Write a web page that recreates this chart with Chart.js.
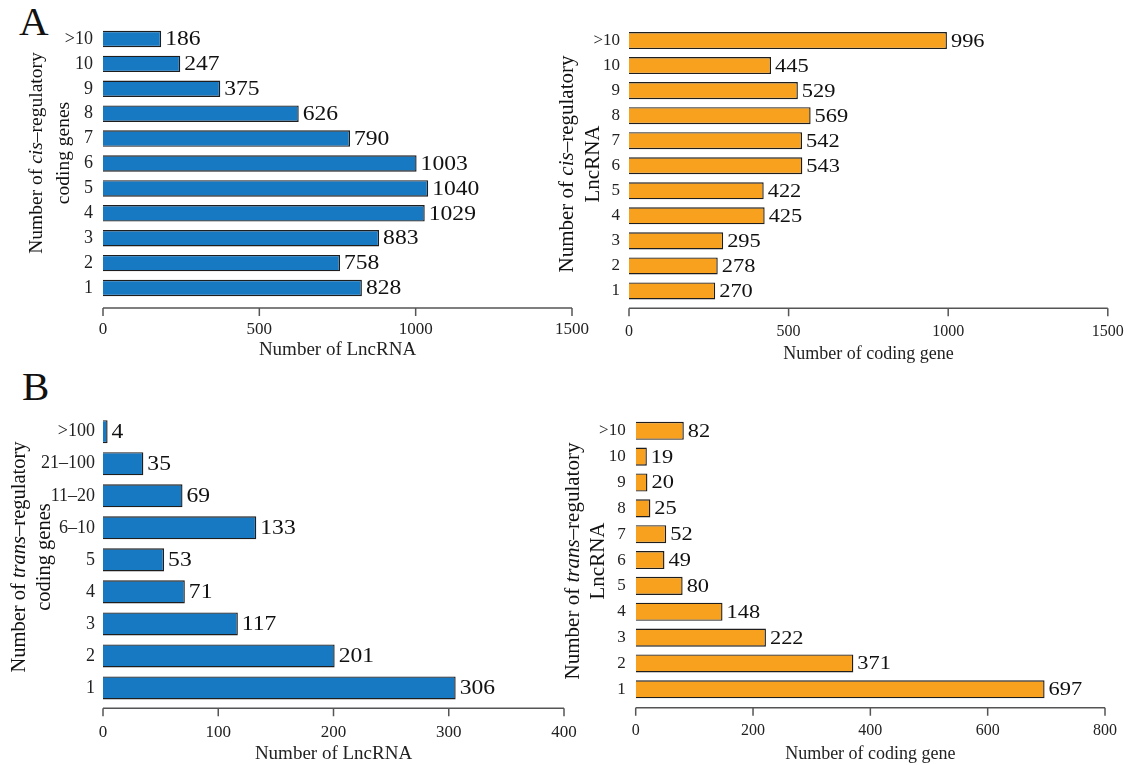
<!DOCTYPE html>
<html>
<head>
<meta charset="utf-8">
<script src="https://cdn.jsdelivr.net/npm/chart.js@4.4.0/dist/chart.umd.min.js"></script>
<style>
body{margin:0;background:#fff;width:1136px;height:765px;position:relative;overflow:hidden;font-family:"Liberation Serif",serif;color:#111}
canvas{position:absolute}
.tag{position:absolute;font-size:41px;line-height:1}
</style>
</head>
<body>
<div class="tag" style="left:19px;top:1px">A</div>
<div class="tag" style="left:22px;top:366px">B</div>
<canvas id="cisGene" width="610" height="365" style="left:0;top:0"></canvas>
<canvas id="cisLnc" width="590" height="365" style="left:556px;top:0"></canvas>
<canvas id="transGene" width="600" height="400" style="left:0;top:365px"></canvas>
<canvas id="transLnc" width="580" height="400" style="left:556px;top:365px"></canvas>
<script>
// data
const cisLabels = ['>10', '10', '9', '8', '7', '6', '5', '4', '3', '2', '1'];
const cisGeneCounts = [186, 247, 375, 626, 790, 1003, 1040, 1029, 883, 758, 828];
const cisLncCounts = [996, 445, 529, 569, 542, 543, 422, 425, 295, 278, 270];
const cisTicks = [0, 500, 1000, 1500];

const transGeneLabels = ['>100', '21\u2013100', '11\u201320', '6\u201310', '5', '4', '3', '2', '1'];
const transGeneCounts = [4, 35, 69, 133, 53, 71, 117, 201, 306];
const transGeneTicks = [0, 100, 200, 300, 400];

const transLncLabels = ['>10', '10', '9', '8', '7', '6', '5', '4', '3', '2', '1'];
const transLncCounts = [82, 19, 20, 25, 52, 49, 80, 148, 222, 371, 697];
const transLncTicks = [0, 200, 400, 600, 800];

const FONT = '"Liberation Serif", "Times New Roman", serif';
const BLUE = 'rgb(24,121,195)';
const ORANGE = 'rgb(247,161,30)';

// draws axis line below the plot, bar values and the two-line y title
const extras = {
    id: 'extras',
    afterDraw(chart, args, opts) {
        const ctx = chart.ctx;
        const xs = chart.scales.x;
        const area = chart.chartArea;

        // x axis line + ticks
        const y0 = area.bottom + opts.gap;
        ctx.save();
        ctx.strokeStyle = '#555';
        ctx.lineWidth = 1.5;
        ctx.beginPath();
        ctx.moveTo(xs.getPixelForValue(xs.min), y0);
        ctx.lineTo(xs.getPixelForValue(xs.max), y0);
        xs.ticks.forEach(t => {
            const px = xs.getPixelForValue(t.value);
            ctx.moveTo(px, y0);
            ctx.lineTo(px, y0 + 8);
        });
        ctx.stroke();

        // values (the figure's value labels are a little wide, so stretch them)
        ctx.fillStyle = '#111';
        ctx.font = opts.valueSize + 'px ' + FONT;
        ctx.textAlign = 'left';
        ctx.textBaseline = 'middle';
        const meta = chart.getDatasetMeta(0);
        meta.data.forEach((bar, i) => {
            ctx.save();
            ctx.translate(bar.x + 4, bar.y + 1);
            ctx.scale(1.18, 1);
            ctx.fillText(chart.data.datasets[0].data[i], 0, 0);
            ctx.restore();
        });

        // y title
        ctx.translate(0, opts.titleY);
        ctx.rotate(-Math.PI / 2);
        opts.titleLines.forEach((parts, li) => {
            let total = 0;
            parts.forEach(p => {
                ctx.font = (p[1] ? 'italic ' : '') + opts.titleSize + 'px ' + FONT;
                total += ctx.measureText(p[0]).width;
            });
            let x = -total / 2;
            parts.forEach(p => {
                ctx.font = (p[1] ? 'italic ' : '') + opts.titleSize + 'px ' + FONT;
                ctx.fillText(p[0], x, opts.titleX[li]);
                x += ctx.measureText(p[0]).width;
            });
        });
        ctx.restore();
    }
};

function makePanel(id, labels, values, color, ticks, o) {
    const ctx = document.getElementById(id).getContext('2d');
    return new Chart(ctx, {
        type: 'bar',
        data: {
            labels: labels,
            datasets: [{
                data: values,
                backgroundColor: color,
                borderColor: '#1e1e1e',
                borderWidth: 1.4,
                barPercentage: o.barPct,
                categoryPercentage: 1
            }]
        },
        options: {
            indexAxis: 'y',
            responsive: false,
            animation: false,
            events: [],
            layout: { padding: { top: o.top, right: o.right, bottom: 0, left: 0 } },
            plugins: {
                legend: { display: false },
                tooltip: { enabled: false },
                extras: {
                    gap: o.gap,
                    valueSize: o.valueSize,
                    titleLines: o.titleLines,
                    titleX: o.titleX,
                    titleY: o.titleY,
                    titleSize: o.titleSize
                }
            },
            scales: {
                x: {
                    type: 'linear',
                    min: ticks[0],
                    max: ticks[ticks.length - 1],
                    afterBuildTicks: s => { s.ticks = ticks.map(v => ({ value: v })); },
                    afterFit: s => { s.height = o.xHeight; },
                    grid: { display: false, drawTicks: false },
                    border: { display: false },
                    ticks: {
                        color: '#222', padding: o.xPad, maxRotation: 0,
                        callback: v => String(v),
                        font: { family: FONT, size: o.xTickSize }
                    },
                    title: {
                        display: true,
                        text: o.xTitle,
                        color: '#222',
                        padding: { top: 0, bottom: o.xTitlePad },
                        font: { family: FONT, size: o.xTitleSize }
                    }
                },
                y: {
                    afterFit: s => { s.width = o.yWidth; },
                    grid: { display: false, drawTicks: false },
                    border: { display: false },
                    ticks: { color: '#222', padding: o.yPad, font: { family: FONT, size: o.yTickSize } }
                }
            }
        },
        plugins: [extras]
    });
}

makePanel('cisGene', cisLabels, cisGeneCounts, BLUE, cisTicks, {
    top: 26.5, right: 38, yWidth: 103, xHeight: 64.5, gap: 7.5, barPct: 0.66,
    xPad: 19, xTickSize: 17, xTitle: 'Number of LncRNA', xTitleSize: 19, xTitlePad: 4,
    yPad: 10, yTickSize: 18, valueSize: 20,
    titleLines: [[['Number of ', false], ['cis', true], ['\u2013regulatory', false]], [['coding genes', false]]],
    titleX: [37, 64], titleY: 153, titleSize: 19.5
});

makePanel('cisLnc', cisLabels, cisLncCounts, ORANGE, cisTicks, {
    top: 28, right: 38.2, yWidth: 73, xHeight: 61.5, gap: 4.8, barPct: 0.68,
    xPad: 19, xTickSize: 16, xTitle: 'Number of coding gene', xTitleSize: 18, xTitlePad: 0,
    yPad: 9, yTickSize: 17, valueSize: 19,
    titleLines: [[['Number of ', false], ['cis', true], ['\u2013regulatory', false]], [['LncRNA', false]]],
    titleX: [11, 37], titleY: 164, titleSize: 21
});

makePanel('transGene', transGeneLabels, transGeneCounts, BLUE, transGeneTicks, {
    top: 50.7, right: 36, yWidth: 103, xHeight: 61, gap: 4.3, barPct: 0.72,
    xPad: 18, xTickSize: 17, xTitle: 'Number of LncRNA', xTitleSize: 19, xTitlePad: 0,
    yPad: 8, yTickSize: 18, valueSize: 20,
    titleLines: [[['Number of ', false], ['trans', true], ['\u2013regulatory', false]], [['coding genes', false]]],
    titleX: [20, 45], titleY: 192, titleSize: 20.5
});

makePanel('transLnc', transLncLabels, transLncCounts, ORANGE, transLncTicks, {
    top: 52.9, right: 31, yWidth: 79.7, xHeight: 62.8, gap: 5.5, barPct: 0.7,
    xPad: 19, xTickSize: 16, xTitle: 'Number of coding gene', xTitleSize: 18, xTitlePad: 0,
    yPad: 10, yTickSize: 17, valueSize: 19,
    titleLines: [[['Number of ', false], ['trans', true], ['\u2013regulatory', false]], [['LncRNA', false]]],
    titleX: [17, 42], titleY: 196, titleSize: 21
});
</script>
</body>
</html>
